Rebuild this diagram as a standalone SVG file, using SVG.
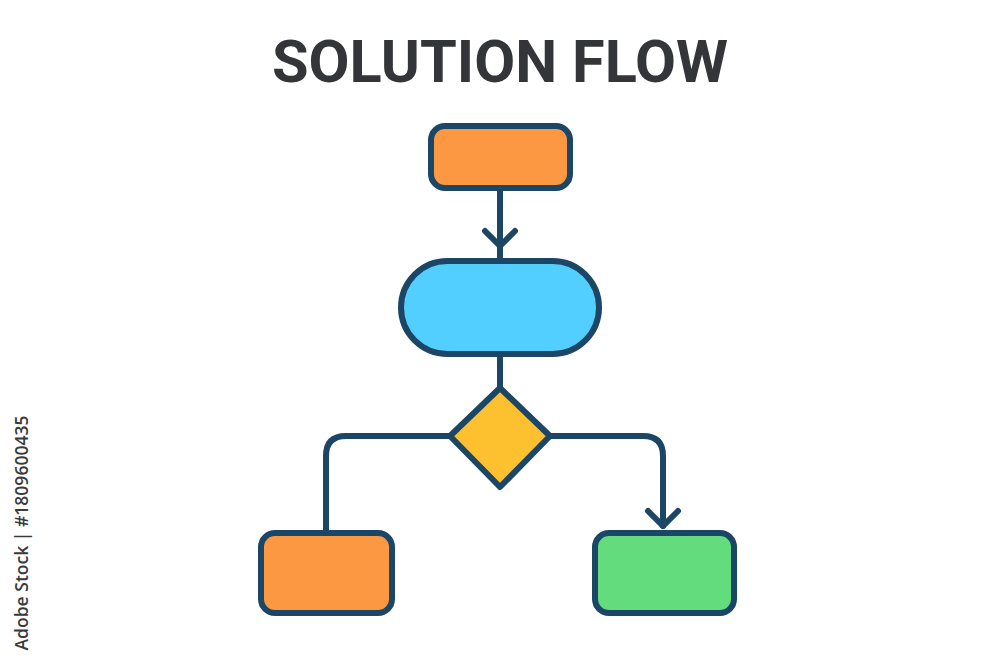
<svg xmlns="http://www.w3.org/2000/svg" width="1000" height="667" viewBox="0 0 1000 667">
<style>
.n{stroke:#1c4665;stroke-width:6;stroke-linejoin:round}
.c{fill:none;stroke:#1c4665;stroke-width:6;stroke-linecap:round;stroke-linejoin:round}
.title{font-family:Roboto,"Liberation Sans",sans-serif;font-weight:700;font-size:59px;fill:#333538}
.wm{font-family:"Open Sans","Liberation Sans",sans-serif;font-size:17.5px;font-weight:600;fill:#3a3a3a}
</style>
<rect width="1000" height="667" fill="#fff"/>
<text class="title" x="500" y="82" text-anchor="middle" textLength="456" lengthAdjust="spacingAndGlyphs">SOLUTION FLOW</text>
<text class="wm" transform="translate(28,533) rotate(-90)" text-anchor="middle" textLength="235" lengthAdjust="spacingAndGlyphs">Adobe Stock | #1809600435</text>
<g id="connectors">
<path class="c" d="M500,191 V257"/>
<path class="c" d="M485,231 L500,246 L515,231"/>
<path class="c" d="M500,357 V386"/>
<path class="c" d="M450,436 H346 Q326,436 326,456 V530"/>
<path class="c" d="M550,436 H643 Q663,436 663,456 V526"/>
<path class="c" d="M648,511 L663,526 L678,511"/>
</g>
<g id="start"><rect class="n" x="431" y="126" width="139" height="62" rx="14" fill="#fd9842"/></g>
<g id="process"><rect class="n" x="401" y="261" width="198" height="93" rx="46.5" fill="#53cfff"/></g>
<g id="decision"><polygon class="n" points="500,388 550,436 500,487 450,436" fill="#fdc02f"/></g>
<g id="left"><rect class="n" x="261" y="533" width="131" height="80" rx="14" fill="#fd9842"/></g>
<g id="right"><rect class="n" x="595" y="533" width="139" height="80" rx="14" fill="#62dc7c"/></g>
</svg>
